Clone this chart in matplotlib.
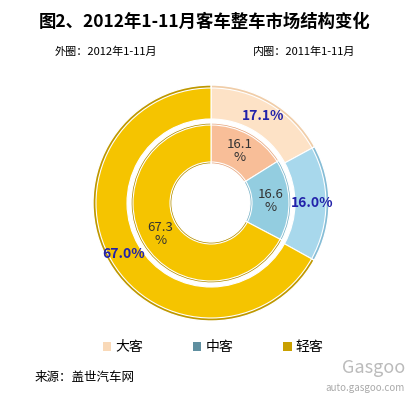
import matplotlib
matplotlib.use("Agg")
import matplotlib.pyplot as plt
from matplotlib.patches import Patch

plt.rcParams['font.family'] = ['Noto Sans CJK SC', 'DejaVu Sans']

# data
categories = ['大客', '中客', '轻客']
outer_2012 = [17.1, 16.0, 67.0]
inner_2011 = [16.1, 16.6, 67.3]

outer_colors = ['#FDE2C6', '#A8D8EC', '#F5C400']
outer_rim = ['#F0CDA8', '#86BDD6', '#BF9800']
inner_colors = ['#F8BE98', '#93CDE0', '#F5C400']
inner_rim = ['#E6A67E', '#7AB3C8', '#B38E00']
legend_colors = ['#F9D9B8', '#5F8FA0', '#C9A000']

W, H = 410, 396
fig = plt.figure(figsize=(W / 100, H / 100), dpi=100)
ax = fig.add_axes([0, 0, 1, 1])

cx, cy = 211, H - 203


def fmt(total, sep):
    return lambda p: ('%.1f' + sep + '%%') % (p * total / 100)


# outer ring (2012): darker rim, then face with labels
ax.pie(outer_2012, colors=outer_rim, startangle=90, counterclock=False,
       radius=118, center=(cx, cy),
       wedgeprops=dict(width=34, edgecolor='white', linewidth=1.0))
ax.pie(outer_2012, colors=outer_colors, startangle=90, counterclock=False,
       radius=115, center=(cx, cy),
       autopct=fmt(sum(outer_2012), ''), pctdistance=0.88,
       wedgeprops=dict(width=31, edgecolor='white', linewidth=0.8),
       textprops=dict(color='#2222AA', fontsize=10, fontweight='bold'))

# inner ring (2011)
ax.pie(inner_2011, colors=inner_rim, startangle=90, counterclock=False,
       radius=80, center=(cx, cy),
       wedgeprops=dict(width=41, edgecolor='white', linewidth=1.0))
ax.pie(inner_2011, colors=inner_colors, startangle=90, counterclock=False,
       radius=78, center=(cx, cy),
       autopct=fmt(sum(inner_2011), '\n'), pctdistance=0.76,
       wedgeprops=dict(width=37, edgecolor='white', linewidth=0.8),
       textprops=dict(color='#333333', fontsize=9.5, linespacing=1.0))

ax.set_xlim(0, W)
ax.set_ylim(0, H)
ax.set_aspect('equal')
ax.axis('off')

# titles
fig.text(0.5, 1 - 22 / H, '图2、2012年1-11月客车整车市场结构变化',
         ha='center', va='center', fontsize=12.5, fontweight='bold')
fig.text(55 / W, 1 - 52 / H, '外圈：2012年1-11月', ha='left', va='center', fontsize=8)
fig.text(253 / W, 1 - 52 / H, '内圈：2011年1-11月', ha='left', va='center', fontsize=8)

# legend
handles = [Patch(facecolor=c, edgecolor='none') for c in legend_colors]
fig.legend(handles, categories, loc='center', bbox_to_anchor=(0.52, 1 - 347 / H),
           ncol=3, frameon=False, fontsize=10, handlelength=0.6, handleheight=0.6,
           handletextpad=0.3, columnspacing=3.6)

fig.text(35 / W, 1 - 378 / H, '来源：盖世汽车网', ha='left', va='center', fontsize=9)
fig.text(405 / W, 1 - 388 / H, 'auto.gasgoo.com', ha='right', va='center',
         fontsize=7, color='#AAAAAA')
fig.text(405 / W, 1 - 368 / H, 'Gasgoo', ha='right', va='center',
         fontsize=13, color='#BBBBBB')

fig.savefig('out.png', dpi=100)
